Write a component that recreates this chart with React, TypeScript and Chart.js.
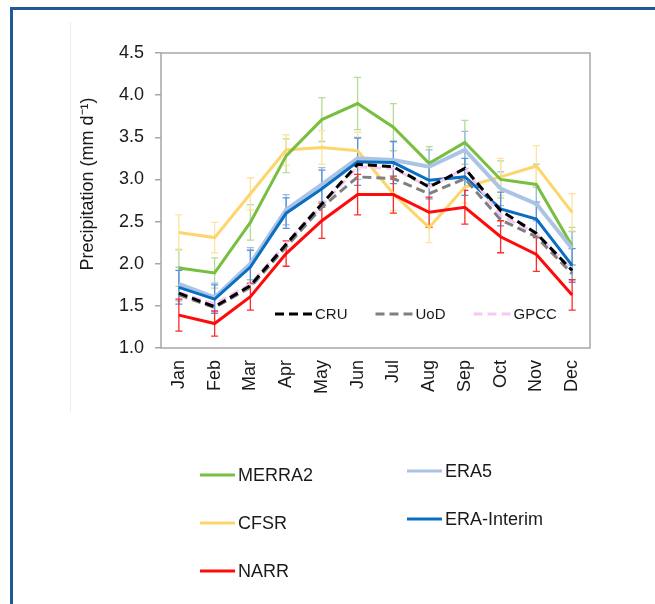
import React, { useEffect, useRef } from "react";
import { Chart, registerables } from "chart.js";

Chart.register(...registerables);

const months = ["Jan", "Feb", "Mar", "Apr", "May", "Jun", "Jul", "Aug", "Sep", "Oct", "Nov", "Dec"];

const merra2 = [1.95, 1.89, 2.49, 3.28, 3.71, 3.9, 3.62, 3.19, 3.44, 3.0, 2.94, 2.21];
const merra2Err = [0.22, 0.18, 0.21, 0.2, 0.26, 0.31, 0.28, 0.2, 0.26, 0.22, 0.24, 0.22];

const cfsr = [2.37, 2.31, 2.83, 3.35, 3.38, 3.34, 2.83, 2.43, 2.91, 3.03, 3.16, 2.61];
const cfsrErr = [0.21, 0.18, 0.19, 0.18, 0.2, 0.22, 0.2, 0.18, 0.19, 0.22, 0.24, 0.22];

const narr = [1.39, 1.29, 1.61, 2.12, 2.51, 2.82, 2.82, 2.61, 2.67, 2.32, 2.11, 1.63];
const narrErr = [0.19, 0.15, 0.16, 0.15, 0.21, 0.24, 0.22, 0.18, 0.2, 0.19, 0.2, 0.18];

const era5 = [1.76, 1.6, 2.0, 2.64, 2.94, 3.25, 3.23, 3.15, 3.35, 2.89, 2.71, 2.18];
const era5Err = [0.2, 0.17, 0.19, 0.18, 0.2, 0.25, 0.22, 0.2, 0.22, 0.2, 0.2, 0.2];

const eraInterim = [1.72, 1.58, 1.96, 2.6, 2.89, 3.21, 3.2, 2.99, 3.03, 2.65, 2.53, 1.98];
const eraInterimErr = [0.2, 0.17, 0.2, 0.18, 0.22, 0.28, 0.25, 0.22, 0.22, 0.2, 0.2, 0.2];

const cru = [1.65, 1.49, 1.74, 2.23, 2.71, 3.18, 3.15, 2.91, 3.13, 2.63, 2.36, 1.92];
const uod = [1.63, 1.48, 1.72, 2.2, 2.67, 3.03, 3.01, 2.83, 3.01, 2.52, 2.32, 1.88];
const gpcc = [1.66, 1.52, 1.76, 2.24, 2.69, 3.15, 3.13, 2.91, 3.13, 2.57, 2.36, 1.93];

const yMin = 1.0;
const yMax = 4.5;
const yStep = 0.5;
const yTitle = "Precipitation (mm d\u207B\u00B9)";

const FONT = "'Liberation Sans', Arial, Helvetica, sans-serif";
const TEXT = "#1a1a1a";
const AXIS = "#a6a6a6";

const decorPlugin = {
  id: "decor",
  beforeDatasetsDraw(chart: any) {
    const ctx = chart.ctx;
    const xs = chart.scales.x;
    const ys = chart.scales.y;
    chart.data.datasets.forEach((ds: any) => {
      if (!ds.errors) return;
      ctx.save();
      ctx.strokeStyle = ds.errColor;
      ctx.lineWidth = 1.3;
      ds.data.forEach((v: number, j: number) => {
        const px = xs.getPixelForValue(j);
        const t = ys.getPixelForValue(v + ds.errors[j]);
        const b = ys.getPixelForValue(v - ds.errors[j]);
        ctx.beginPath();
        ctx.moveTo(px, t);
        ctx.lineTo(px, b);
        ctx.moveTo(px - 3.5, t);
        ctx.lineTo(px + 3.5, t);
        ctx.moveTo(px - 3.5, b);
        ctx.lineTo(px + 3.5, b);
        ctx.stroke();
      });
      ctx.restore();
    });
  },
  afterDraw(chart: any) {
    const ctx = chart.ctx;
    const ca = chart.chartArea;
    ctx.save();
    // plot frame
    ctx.strokeStyle = AXIS;
    ctx.lineWidth = 1.5;
    ctx.strokeRect(ca.left, ca.top, ca.right - ca.left, ca.bottom - ca.top);

    // y title
    ctx.fillStyle = TEXT;
    ctx.font = `18px ${FONT}`;
    ctx.textAlign = "center";
    ctx.textBaseline = "middle";
    ctx.save();
    ctx.translate(88, 184);
    ctx.rotate(-Math.PI / 2);
    ctx.fillText(yTitle, 0, 0);
    ctx.restore();

    const dsets = chart.data.datasets;
    // inner legend
    ctx.font = `15px ${FONT}`;
    ctx.textAlign = "left";
    let lx = 275;
    const ly = 314;
    dsets
      .filter((d: any) => d.legendGroup === "inner")
      .forEach((d: any) => {
        ctx.beginPath();
        ctx.strokeStyle = d.borderColor;
        ctx.lineWidth = 3;
        ctx.setLineDash([9, 5]);
        ctx.moveTo(lx, ly);
        ctx.lineTo(lx + 37, ly);
        ctx.stroke();
        ctx.setLineDash([]);
        ctx.fillStyle = TEXT;
        ctx.fillText(d.label, lx + 40, ly + 1);
        lx += 40 + ctx.measureText(d.label).width + 28;
      });

    // bottom legend
    ctx.font = `18px ${FONT}`;
    const cols = [200, 407];
    const rows = [475, 523, 571];
    dsets
      .filter((d: any) => d.legendGroup === "bottom")
      .forEach((d: any, k: number) => {
        const c = k % 2;
        const r = Math.floor(k / 2);
        const x0 = cols[c];
        const y0 = rows[r] - (c === 1 ? 4 : 0);
        ctx.beginPath();
        ctx.strokeStyle = d.borderColor;
        ctx.lineWidth = 3;
        ctx.moveTo(x0, y0);
        ctx.lineTo(x0 + 35, y0);
        ctx.stroke();
        ctx.fillStyle = TEXT;
        ctx.fillText(d.label, x0 + 38, y0 + 1);
      });
    ctx.restore();
  },
};

export default function App() {
  const ref = useRef<HTMLCanvasElement>(null);

  useEffect(() => {
    if (!ref.current) return;
    const line = (label: string, data: number[], color: string, width: number, order: number, extra: any = {}) => ({
      label,
      data,
      borderColor: color,
      backgroundColor: color,
      borderWidth: width,
      pointRadius: 0,
      tension: 0,
      fill: false,
      order,
      ...extra,
    });
    const chart = new Chart(ref.current, {
      type: "line",
      data: {
        labels: months,
        datasets: [
          line("MERRA2", merra2, "#78bf40", 3, 6, { errors: merra2Err, errColor: "#b3dc95", legendGroup: "bottom" }),
          line("ERA5", era5, "#abc4e6", 4, 5, { errors: era5Err, errColor: "#9dbbe3", legendGroup: "bottom" }),
          line("CFSR", cfsr, "#fdd56b", 3, 7, { errors: cfsrErr, errColor: "#fde39c", legendGroup: "bottom" }),
          line("ERA-Interim", eraInterim, "#0a6fc2", 3, 4, { errors: eraInterimErr, errColor: "#5b93d3", legendGroup: "bottom" }),
          line("NARR", narr, "#ff0a0a", 3, 0, { errors: narrErr, errColor: "#ff2a2a", legendGroup: "bottom" }),
          line("CRU", cru, "#000000", 3, 1, { borderDash: [9, 5], legendGroup: "inner" }),
          line("UoD", uod, "#808080", 3, 2, { borderDash: [9, 5], legendGroup: "inner" }),
          line("GPCC", gpcc, "#f8c8f4", 3, 3, { borderDash: [9, 5], legendGroup: "inner" }),
        ],
      },
      options: {
        animation: false,
        responsive: false,
        maintainAspectRatio: false,
        layout: { padding: { left: 0, top: 53, right: 65, bottom: 0 } },
        plugins: { legend: { display: false }, tooltip: { enabled: false }, title: { display: false } },
        scales: {
          x: {
            type: "category",
            offset: true,
            grid: { display: false, drawTicks: false },
            border: { display: false },
            ticks: {
              autoSkip: false,
              maxRotation: 90,
              minRotation: 90,
              padding: 12,
              color: TEXT,
              font: { family: FONT, size: 18 },
            },
            afterFit: (s: any) => {
              s.height = 256;
            },
          },
          y: {
            min: yMin,
            max: yMax,
            ticks: {
              stepSize: yStep,
              padding: 11,
              color: TEXT,
              font: { family: FONT, size: 18 },
              callback: (v: any) => Number(v).toFixed(1),
            },
            grid: { drawOnChartArea: false, drawTicks: true, tickLength: 6, color: AXIS, lineWidth: 1.5 },
            border: { display: false },
            afterFit: (s: any) => {
              s.width = 161;
            },
          },
        },
      },
      plugins: [decorPlugin],
    });
    return () => chart.destroy();
  }, []);

  return (
    <div style={{ position: "absolute", left: 0, top: 0, width: 655, height: 604, background: "#fff", overflow: "hidden" }}>
      <div
        style={{
          position: "absolute",
          left: 10,
          top: 7,
          width: 700,
          height: 700,
          borderLeft: "3px solid #1d5a98",
          borderTop: "3px solid #1d5a98",
          boxSizing: "border-box",
        }}
      />
      <div style={{ position: "absolute", left: 70, top: 22, width: 1, height: 390, background: "#ececec" }} />
      <canvas ref={ref} width={655} height={604} style={{ position: "absolute", left: 0, top: 0 }} />
    </div>
  );
}
